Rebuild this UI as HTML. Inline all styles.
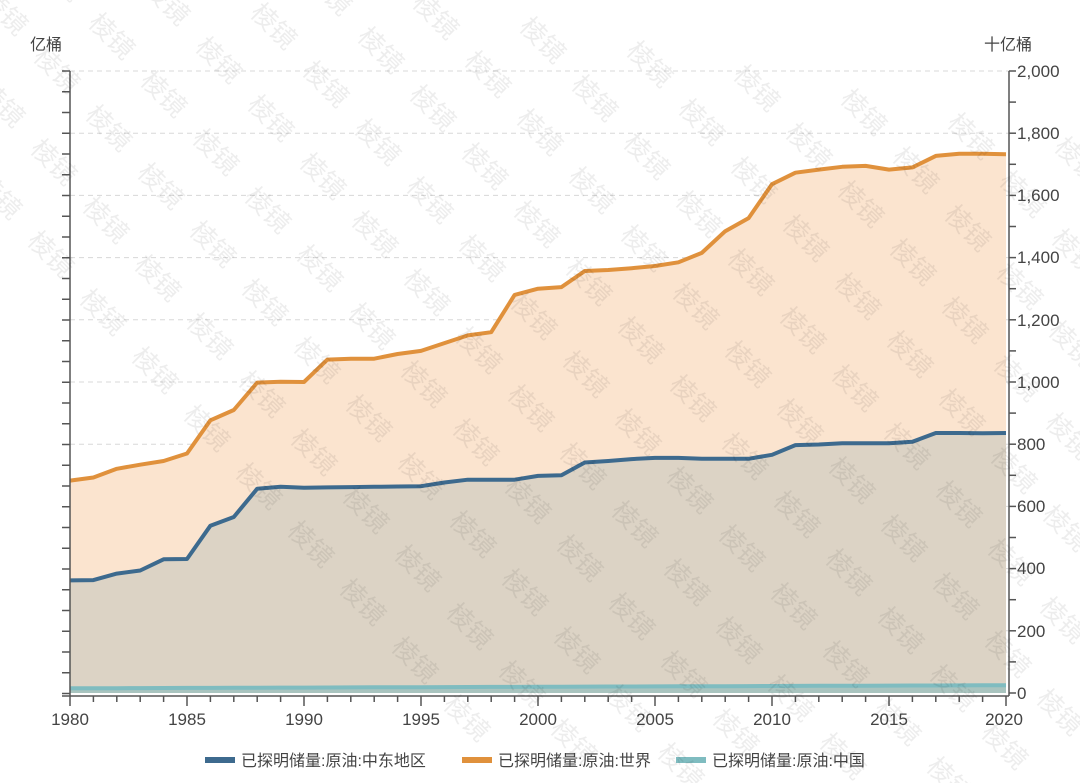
<!DOCTYPE html>
<html><head><meta charset="utf-8"><style>
html,body{margin:0;padding:0;background:#fff;width:1080px;height:783px;overflow:hidden;}
body{font-family:"Liberation Sans","Noto Sans CJK SC",sans-serif;}
svg{display:block;overflow:hidden;}
svg text{font-family:"Liberation Sans","Noto Sans CJK SC",sans-serif;}
</style></head><body>
<svg id="c" width="1080" height="783" viewBox="0 0 1080 783" xmlns="http://www.w3.org/2000/svg">
<g id="grid" stroke="#d8d8d8" stroke-dasharray="5,4" stroke-width="1"></g>
<g id="series"></g>
<g id="axes" stroke="#555" stroke-width="1.5" fill="none"></g>
<g font-size="16" fill="#444">
<text x="30" y="50">亿桶</text>
<text x="984" y="50">十亿桶</text>
</g>
<g font-size="17" fill="#444">
<text x="1017" y="77">2,000</text>
<text x="1017" y="139">1,800</text>
<text x="1017" y="201">1,600</text>
<text x="1017" y="263">1,400</text>
<text x="1017" y="326">1,200</text>
<text x="1017" y="388">1,000</text>
<text x="1017" y="450">800</text>
<text x="1017" y="512">600</text>
<text x="1017" y="574">400</text>
<text x="1017" y="637">200</text>
<text x="1017" y="699">0</text>
<text x="70" y="725" text-anchor="middle">1980</text>
<text x="187" y="725" text-anchor="middle">1985</text>
<text x="304" y="725" text-anchor="middle">1990</text>
<text x="421" y="725" text-anchor="middle">1995</text>
<text x="538" y="725" text-anchor="middle">2000</text>
<text x="655" y="725" text-anchor="middle">2005</text>
<text x="772" y="725" text-anchor="middle">2010</text>
<text x="889" y="725" text-anchor="middle">2015</text>
<text x="1004" y="725" text-anchor="middle">2020</text>
</g>
<g font-size="16" fill="#444">
<rect x="205" y="757" width="30" height="6" fill="#3d6a8e"/><text x="241" y="766">已探明储量:原油:中东地区</text>
<rect x="462" y="757" width="30" height="6" fill="#e0913c"/><text x="498" y="766">已探明储量:原油:世界</text>
<rect x="676" y="757" width="30" height="6" fill="#7fbcc0"/><text x="712" y="766">已探明储量:原油:中国</text>
</g>
<g id="wm" font-size="26" fill="#000" fill-opacity="0.07"></g>
</svg>
<script>
const X0=70,DX=23.4,Y0=693,SY=0.311;
const xs=y=>X0+(y-1980)*DX, ys=v=>Y0-v*SY;
const W=[683,693,721,734,746,770,877,910,998,1001,1000,1072,1075,1075,1090,1100,1125,1150,1160,1280,1300,1305,1357,1360,1366,1373,1385,1415,1485,1527,1636,1673,1683,1692,1695,1683,1690,1727,1734,1734,1732];
const M=[362,363,384,394,430,431,538,566,657,663,660,661,662,663,664,665,677,686,686,686,698,700,741,746,752,756,756,753,753,753,766,797,799,803,803,803,808,836,836,835,836];
const C=W.map((_,i)=>15+i*0.25);
const ns="http://www.w3.org/2000/svg";
function el(p,t,a){const e=document.createElementNS(ns,t);for(const k in a)e.setAttribute(k,a[k]);p.appendChild(e);return e;}
const pts=a=>a.map((v,i)=>xs(1980+i).toFixed(1)+","+ys(v).toFixed(1)).join(" ");
const area=a=>"M"+xs(1980)+","+Y0+" L"+pts(a)+" L"+xs(2020)+","+Y0+" Z";
const g=document.getElementById("grid");
for(let v=200;v<=2000;v+=200)el(g,"line",{x1:70,x2:1009,y1:ys(v),y2:ys(v)});
const s=document.getElementById("series");
el(s,"path",{d:area(W),fill:"#fbe4cf"});
el(s,"path",{d:area(M),fill:"#dcd3c5"});
el(s,"path",{d:area(C),fill:"#a9c4bf"});
el(s,"polyline",{points:pts(W),fill:"none",stroke:"#e0913c","stroke-width":4,"stroke-linejoin":"round"});
el(s,"polyline",{points:pts(M),fill:"none",stroke:"#3d6a8e","stroke-width":4,"stroke-linejoin":"round"});
el(s,"polyline",{points:pts(C),fill:"none",stroke:"#7fbcc0","stroke-width":4});
const a=document.getElementById("axes");
el(a,"line",{x1:70,x2:70,y1:71,y2:696});
el(a,"line",{x1:1009,x2:1009,y1:71,y2:696});
el(a,"line",{x1:62,x2:1009,y1:696,y2:696});
for(let y=71;y<=696;y+=20.75)el(a,"line",{x1:62,x2:70,y1:y,y2:y});
for(let v=0;v<=2000;v+=100)el(a,"line",{x1:1009,x2:1016,y1:ys(v),y2:ys(v)});
for(let yr=1980;yr<=2020;yr++){const x=xs(yr);el(a,"line",{x1:x,x2:x,y1:696,y2:yr%5?702:706});}
const wm=document.getElementById("wm");
for(let r=-2;r<14;r++)for(let c=-2;c<14;c++){
 const x=c*107+r*52-20,y=r*58+c*24;
 if(x<-40||x>1100||y<-40||y>770)continue;
 const t=el(wm,"text",{x:0,y:0,transform:`translate(${x},${y}) rotate(45)`});t.textContent="棱镜";
}
</script>
</body></html>
